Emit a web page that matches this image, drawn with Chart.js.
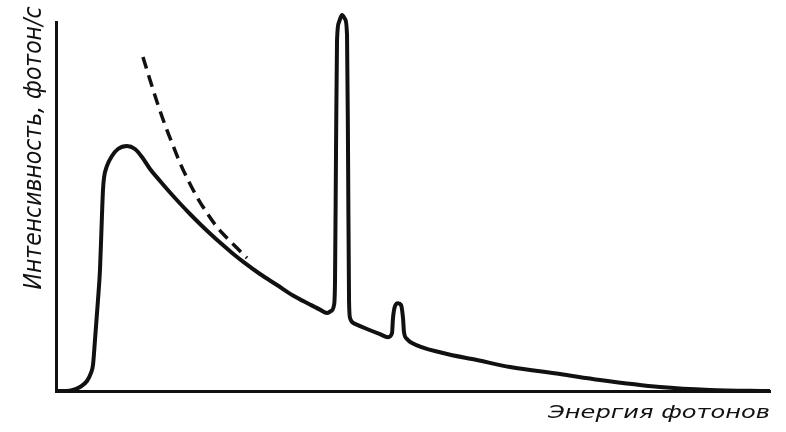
<!DOCTYPE html>
<html>
<head>
<meta charset="utf-8">
<script src="https://cdn.jsdelivr.net/npm/chart.js@4/dist/chart.umd.min.js"></script>
<style>
  html, body { margin: 0; padding: 0; background: #fff; }
  #wrap { width: 786px; height: 432px; }
</style>
</head>
<body>
<div id="wrap"><canvas id="spectrum"></canvas></div>
<script>
// energy (arb. units, 0..100) and intensity (arb. units, 0..100)
const energy = [0, 1.40, 2.38, 3.36, 4.34, 4.90, 5.18, 5.46, 5.88, 6.16, 6.44, 6.58, 6.72,
  7.14, 7.84, 8.68, 9.94,
  11.06, 12.04, 13.17, 14.57, 15.97, 17.37, 18.77, 20.17, 21.57, 22.97, 24.79, 26.47,
  28.57, 30.95, 33.19, 35.57, 36.97, 37.96, 38.52,
  38.94, 39.08, 39.22, 39.36, 39.64, 40.06, 40.48, 40.76, 40.9, 41.04, 41.18, 41.88, 43.56,
  45.38, 46.5, 47.06, 47.2, 47.48, 47.9, 48.32, 48.6, 48.74, 49.16, 49.86, 54.2, 58.96,
  63.59, 70.59, 76.19, 84.59, 91.6, 100];
const intensity = [0, 0, 0.27, 1.08, 2.71, 4.88, 7.05, 13.82, 24.66, 32.79, 47.70, 54.47, 57.72,
  60.98, 63.69, 65.58, 66.40,
  65.58, 63.41, 60.16, 56.91, 53.79, 50.81, 47.97, 45.26, 42.68, 40.22, 37.21, 34.66,
  31.71, 28.73, 25.88, 23.44, 22.05, 21.14, 21.68,
  23.3, 30.1, 65.3, 95.1, 100.0, 101.9, 100.8, 96.5, 65.3, 24.7, 19.8, 18.2, 16.8,
  15.4, 14.6, 15.7, 19.8, 23.0, 23.8, 23.3, 19.8, 16.0, 14.1, 13.0, 10.3, 8.4,
  6.5, 4.6, 3.0, 1.1, 0.3, 0];

// continuum without absorption (dashed)
const energyNoAbs = [12.18, 13.17, 14.29, 15.27, 16.25, 17.37, 18.49, 19.75, 21.15, 22.55, 23.95, 25.35, 26.75];
const intensityNoAbs = [90.51, 84.28, 77.51, 72.09, 67.21, 61.79, 57.18, 52.57, 48.24, 44.44, 41.46, 38.75, 36.04];

const xTitle = 'Энергия фотонов';
const yTitle = 'Интенсивность, фотон/с';

const toPoints = (xs, ys) => xs.map((x, i) => ({ x, y: ys[i] }));

// axis captions, stretched to a fixed width
const captions = {
  id: 'captions',
  afterDraw(chart) {
    const { ctx, chartArea } = chart;
    ctx.save();
    ctx.fillStyle = '#111';

    ctx.font = 'italic 18px "DejaVu Sans"';
    let w = ctx.measureText(xTitle).width;
    ctx.save();
    ctx.translate(chartArea.right - 222, 418);
    ctx.scale(222 / w, 1);
    ctx.textAlign = 'left';
    ctx.textBaseline = 'alphabetic';
    ctx.fillText(xTitle, 0, 0);
    ctx.restore();

    ctx.font = 'italic 24px "DejaVu Sans"';
    w = ctx.measureText(yTitle).width;
    ctx.save();
    ctx.translate(41, 148);
    ctx.rotate(-Math.PI / 2);
    ctx.scale(283 / w, 1);
    ctx.textAlign = 'center';
    ctx.textBaseline = 'alphabetic';
    ctx.fillText(yTitle, 0, 0);
    ctx.restore();

    ctx.restore();
  }
};

new Chart(document.getElementById('spectrum'), {
  type: 'line',
  data: {
    datasets: [
      {
        data: toPoints(energy, intensity),
        borderColor: '#111',
        borderWidth: 4,
        pointRadius: 0,
        cubicInterpolationMode: 'monotone',
        clip: false
      },
      {
        data: toPoints(energyNoAbs, intensityNoAbs),
        borderColor: '#111',
        borderWidth: 3.5,
        borderDash: [12, 7],
        pointRadius: 0,
        cubicInterpolationMode: 'monotone',
        clip: false
      }
    ]
  },
  options: {
    responsive: true,
    maintainAspectRatio: false,
    animation: false,
    layout: { padding: { left: 48, right: 16, top: 22, bottom: 33 } },
    plugins: { legend: { display: false }, tooltip: { enabled: false } },
    scales: {
      x: {
        type: 'linear', min: 0, max: 100,
        ticks: { display: false },
        grid: { display: false },
        border: { display: true, color: '#111', width: 3 }
      },
      y: {
        type: 'linear', min: 0, max: 100,
        ticks: { display: false },
        grid: { display: false },
        border: { display: true, color: '#111', width: 3 }
      }
    }
  },
  plugins: [captions]
});
</script>
</body>
</html>
